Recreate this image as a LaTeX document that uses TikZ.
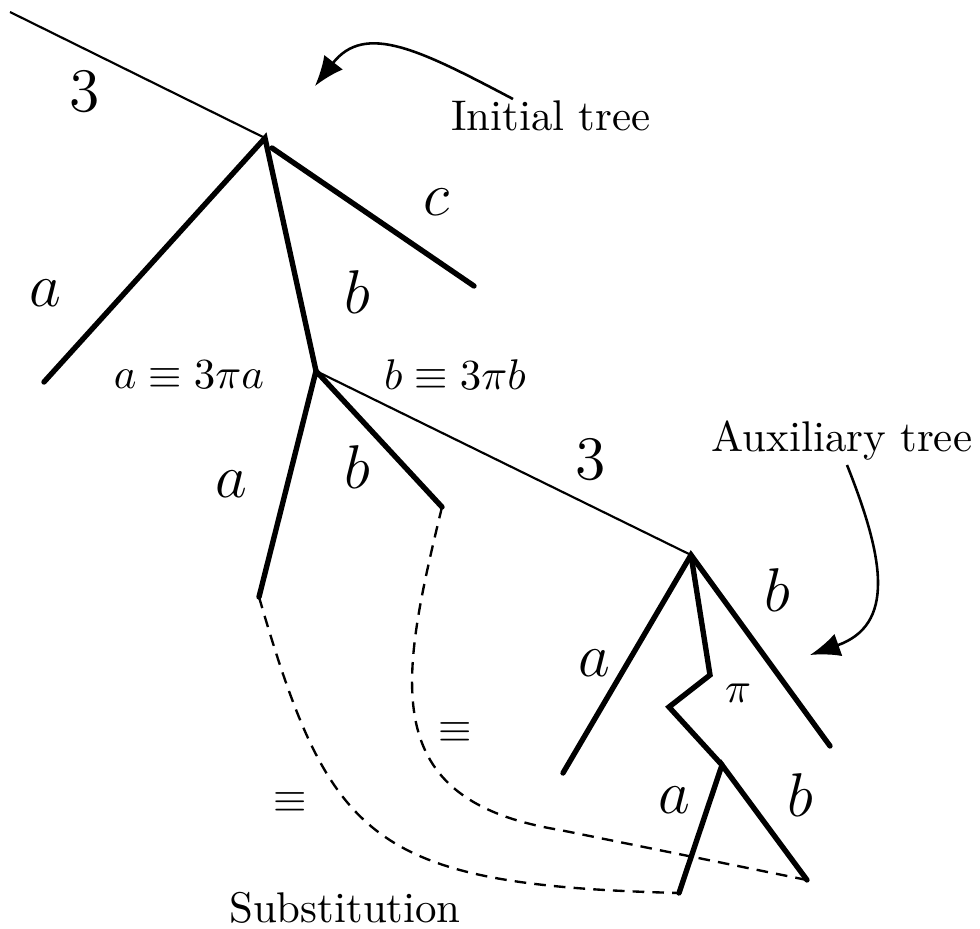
\documentclass[tikz,border=0pt]{standalone}
\usetikzlibrary{arrows.meta}
\begin{document}
\begin{tikzpicture}[x=0.233pt,y=-0.233pt,
  thin line/.style={line width=0.5pt},
  thick line/.style={line width=1.25pt,line cap=round},
  dash line/.style={line width=0.55pt,dash pattern=on 2.7pt off 1.9pt},
  pointer/.style={line width=0.6pt,-{Latex[length=7pt,width=5.5pt]}},
  big/.style={font=\Large,inner sep=0pt},
  small/.style={font=\normalsize,inner sep=0pt}]
\useasboundingbox (0,0) rectangle (980,929);
% tree points
\coordinate (top) at (10,12);
\coordinate (r1) at (265,138);
\coordinate (la) at (44,382);
\coordinate (cs) at (272,148);
\coordinate (ce) at (474,286);
\coordinate (n2) at (316,371);
\coordinate (a2) at (259,597);
\coordinate (b2) at (442,507);
\coordinate (r3) at (691,555);
\coordinate (a3) at (563,773);
\coordinate (b3) at (830,746);
\coordinate (z1) at (710,675);
\coordinate (z2) at (669,707);
\coordinate (z3) at (722,765);
\coordinate (a4) at (679,893);
\coordinate (b4) at (807,880);
% thin edges
\draw[thin line] (top) -- (r1);
\draw[thin line] (n2) -- (r3);
% thick edges
\draw[thick line] (la) -- (r1) -- (n2);
\draw[thick line] (cs) -- (ce);
\draw[thick line] (a2) -- (n2) -- (b2);
\draw[thick line] (a3) -- (r3) -- (b3);
\draw[thick line,line join=miter] (r3) -- (z1) -- (z2) -- (z3);
\draw[thick line] (a4) -- (z3) -- (b4);
% dashed substitutions
\draw[dash line] (a2) .. controls (330,840) and (370,885) .. (a4);
\draw[dash line] (b2) .. controls (400,680) and (375,800) .. (560,830) -- (b4);
% labels
\node[big] (t1) at (85,92) {$3$};
\node[small] (init) at (551,116) {Initial tree};
\node[big] (lc) at (437,202) {$c$};
\node[big] (la1) at (45,293) {$a$};
\node[big] (lb1) at (357,292) {$b$};
\node[small] (eqa) at (189,375) {$a\equiv 3\pi a$};
\node[small] (eqb) at (455,375) {$b\equiv 3\pi b$};
\node[big] (la2) at (231,484) {$a$};
\node[big] (lb2) at (357,467) {$b$};
\node[big] (t2) at (591,460) {$3$};
\node[small] (aux) at (842,441) {Auxiliary tree};
\node[big] (lb3) at (777,590) {$b$};
\node[big] (la3) at (594,663) {$a$};
\node[small] (pi) at (738,693) {$\pi$};
\node[small] (eq1) at (455,733) {$\equiv$};
\node[small] (eq2) at (290,803) {$\equiv$};
\node[big] (la4) at (674,800) {$a$};
\node[big] (lb4) at (800,795) {$b$};
\node[small] (subst) at (345,908) {Substitution};
% pointer arrows
\coordinate (p1) at (315,86);
\coordinate (p2) at (810,655);
\draw[pointer] (513,99) .. controls (420,50) and (365,22) .. (p1);
\draw[pointer] (847,465) .. controls (885,560) and (895,625) .. (p2);
\end{tikzpicture}
\end{document}
